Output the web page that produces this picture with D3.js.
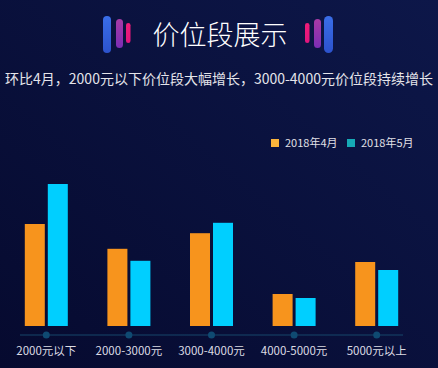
<!DOCTYPE html>
<html>
<head>
<meta charset="utf-8">
<script src="https://cdn.jsdelivr.net/npm/d3@7/dist/d3.min.js"></script>
<style>
  html, body { margin: 0; padding: 0; background: #070c33; }
  svg { display: block; font-family: "Noto Sans CJK SC", "Noto Sans", sans-serif; }
</style>
</head>
<body>
<svg id="chart" width="438" height="368"></svg>
<script>
var categories = ["2000元以下", "2000-3000元", "3000-4000元", "4000-5000元", "5000元以上"];
var seriesNames = ["2018年4月", "2018年5月"];
var aprValues = [25.5, 19.3, 23.2, 8.0, 16.0];
var mayValues = [35.5, 16.3, 25.8, 7.0, 14.0];
var barColors = ["#f7941d", "#00cfff"];
var legendColors = ["#fbb53c", "#16aab6"];

var svg = d3.select("#chart");
var W = +svg.attr("width"), H = +svg.attr("height");

// background
var defs = svg.append("defs");
var bg = defs.append("linearGradient").attr("id", "bg")
    .attr("x1", "100%").attr("y1", "0%").attr("x2", "0%").attr("y2", "100%");
bg.append("stop").attr("offset", "0%").attr("stop-color", "#0d1749");
bg.append("stop").attr("offset", "100%").attr("stop-color", "#060a2f");
svg.append("rect").attr("width", W).attr("height", H).attr("fill", "url(#bg)");

function grad(id, c1, c2) {
    var g = defs.append("linearGradient").attr("id", id)
        .attr("x1", "0%").attr("y1", "0%").attr("x2", "0%").attr("y2", "100%");
    g.append("stop").attr("offset", "0%").attr("stop-color", c1);
    g.append("stop").attr("offset", "100%").attr("stop-color", c2);
}
grad("gBlue", "#3a6ee8", "#2c52cc");
grad("gPurple", "#a83aa6", "#7b2db4");
grad("gPink", "#f01c78", "#e0157e");

// title decorations
var deco = [
    {x: 103, w: 8, y: 16, h: 37, f: "url(#gBlue)"},
    {x: 116, w: 7, y: 19, h: 29, f: "url(#gPurple)"},
    {x: 126, w: 4.5, y: 23, h: 20, f: "url(#gPink)"},
    {x: 305, w: 4.5, y: 23, h: 20, f: "url(#gPink)"},
    {x: 314, w: 7, y: 19, h: 29, f: "url(#gPurple)"},
    {x: 324, w: 9, y: 16, h: 37, f: "url(#gBlue)"}
];
svg.selectAll("rect.deco").data(deco).enter().append("rect")
    .attr("class", "deco")
    .attr("x", d => d.x).attr("y", d => d.y)
    .attr("width", d => d.w).attr("height", d => d.h)
    .attr("rx", d => d.w / 2).attr("fill", d => d.f);

svg.append("text")
    .attr("x", 220).attr("y", 45)
    .attr("text-anchor", "middle")
    .attr("fill", "#ffffff")
    .attr("font-size", "27px")
    .attr("font-weight", 300)
    .text("价位段展示");

svg.append("text")
    .attr("x", 219).attr("y", 84)
    .attr("text-anchor", "middle")
    .attr("fill", "#e4e4ea")
    .attr("font-size", "14px")
    .text("环比4月，2000元以下价位段大幅增长，3000-4000元价位段持续增长");

// legend
var legend = svg.append("g");
var legendX = [271, 347];
seriesNames.forEach(function(name, i) {
    legend.append("rect")
        .attr("x", legendX[i]).attr("y", 139)
        .attr("width", 8).attr("height", 8)
        .attr("fill", legendColors[i]);
    legend.append("text")
        .attr("x", legendX[i] + 14).attr("y", 147)
        .attr("fill", "#e0e0e6")
        .attr("font-size", "11px")
        .text(name);
});

// scales
var x = d3.scaleBand().domain(categories).range([5, 418]).padding(0);
var x1 = d3.scaleBand().domain(seriesNames).range([0, 43]).paddingInner(0.1304);
var y = d3.scaleLinear().domain([0, 40]).range([326, 166]);

var data = categories.map(function(c, i) {
    return {cat: c, vals: [aprValues[i], mayValues[i]]};
});

var groups = svg.selectAll("g.cat").data(data).enter().append("g")
    .attr("class", "cat")
    .attr("transform", d => "translate(" + (x(d.cat) + x.bandwidth() / 2 - 21.5) + ",0)");

groups.selectAll("rect").data(d => d.vals.map((v, i) => ({s: seriesNames[i], v: v, i: i})))
    .enter().append("rect")
    .attr("x", d => x1(d.s))
    .attr("y", d => y(d.v))
    .attr("width", x1.bandwidth())
    .attr("height", d => y(0) - y(d.v))
    .attr("fill", d => barColors[d.i]);

// axis
svg.append("line")
    .attr("x1", 20).attr("x2", 403)
    .attr("y1", 335).attr("y2", 335)
    .attr("stroke", "#17466b").attr("stroke-width", 1);

svg.selectAll("circle.tick").data(categories).enter().append("circle")
    .attr("class", "tick")
    .attr("cx", d => x(d) + x.bandwidth() / 2)
    .attr("cy", 335).attr("r", 3.5)
    .attr("fill", "#0f4a72");

svg.selectAll("text.cat").data(categories).enter().append("text")
    .attr("class", "cat")
    .attr("x", d => x(d) + x.bandwidth() / 2)
    .attr("y", 355)
    .attr("text-anchor", "middle")
    .attr("fill", "#dcdce4")
    .attr("font-size", "11.5px")
    .text(d => d);
</script>
</body>
</html>
